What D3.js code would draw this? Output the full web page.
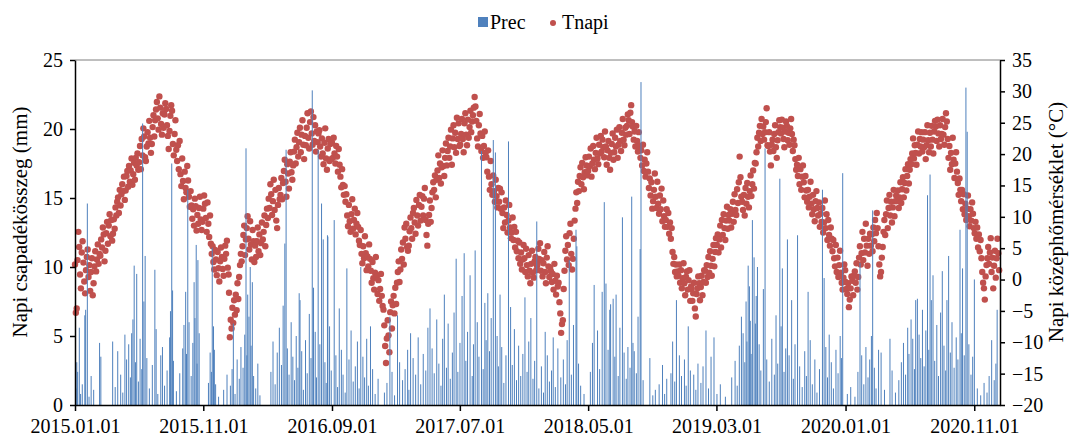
<!DOCTYPE html>
<html>
<head>
<meta charset="utf-8">
<script src="https://cdn.jsdelivr.net/npm/d3@7/dist/d3.min.js"></script>
<style>
body { margin: 0; background: #fff; }
text { font-family: "Liberation Serif", "Times New Roman", serif; fill: #000; }
</style>
</head>
<body>
<div id="chart"></div>
<script>
var width = 1072;
var height = 440;
var plotLeft = 75, plotRight = 1000, plotTop = 60, plotBottom = 405;

var seriesNames = ["Prec", "Tnapi"];
var dateTicks = ["2015.01.01", "2015.11.01", "2016.09.01", "2017.07.01", "2018.05.01", "2019.03.01", "2020.01.01", "2020.11.01"];
var precTicks = [0, 5, 10, 15, 20, 25];
var tempTicks = [-20, -15, -10, -5, 0, 5, 10, 15, 20, 25, 30, 35];

// daily mean temperature (°C), every 2nd day from 1 January
var t2015 = [2.4,-5.3,-4.6,3.1,7.6,5.2,0.8,-1.4,4.3,6.1,2.7,-0.3,-2.2,1.5,3.6,4.8,
  0.4,2.3,-1.8,1.2,3.4,-2.5,-0.6,2.1,4.5,1.3,3.2,5.6,2.5,4.1,
  3.8,6.4,5.1,8.3,7.2,2.9,4.6,7.4,9.2,5.7,8.6,10.4,6.9,9.5,6.2,
  7.3,9.6,8.1,11.5,10.2,12.4,13.1,10.6,14.3,11.8,13.6,15.2,14.1,16.4,12.7,
  14.2,16.5,17.3,14.8,18.1,15.6,17.4,19.3,15.1,16.8,18.6,15.9,19.4,18.2,20.1,17.5,
  18.7,21.3,17.6,22.4,19.8,24.1,22.8,19.5,18.9,21.2,23.5,21.7,25.3,22.6,20.2,
  21.6,24.3,26.2,22.8,25.4,27.1,28.3,25.7,23.9,29.2,27.4,24.8,23.1,26.5,24.2,
  26.3,28.1,27.2,24.6,22.9,20.8,23.7,26.1,27.8,26.9,21.6,19.8,23.2,25.4,20.7,18.9,
  21.4,17.6,22.1,16.8,14.9,19.3,15.7,12.8,17.2,14.6,13.9,18.1,15.8,13.2,11.6,
  14.1,11.8,9.7,11.2,8.6,12.9,11.7,7.8,10.3,8.9,11.4,13.2,9.6,7.9,9.2,
  11.3,13.4,12.1,9.8,7.6,12.3,8.9,6.8,10.2,5.7,4.1,5.3,2.8,1.6,4.7,
  3.2,0.7,4.4,1.8,-0.3,2.9,5.1,3.6,1.7,0.6,3.3,5.4,4.1,6.2,1.9,0.8];
var t2016 = [-2.1,-9.2,-6.4,-7.8,-4.5,-6.9,-3.3,-5.6,-2.4,-4.9,-0.6,-3.1,0.4,2.3,4.1,2.9,
  5.3,7.1,8.6,3.9,6.4,8.2,10.1,6.5,4.8,9.3,5.6,3.2,7.9,6.1,
  2.8,5.4,3.6,6.1,8.3,4.5,7.2,3.9,5.8,9.1,6.4,7.6,10.2,5.3,8.7,11.3,
  9.8,12.9,11.4,15.2,13.6,10.3,12.5,15.9,11.1,14.3,9.4,8.2,11.9,14.6,12.8,
  13.5,16.2,12.8,15.4,17.3,19.1,15.6,13.2,18.4,16.9,14.5,18.8,20.3,17.1,15.9,
  18.2,20.4,22.3,18.5,21.1,23.4,19.6,21.9,24.2,20.3,23.1,25.4,21.5,19.2,22.9,
  21.4,24.2,26.5,22.6,20.9,25.1,26.8,23.3,21.5,25.9,22.1,24.6,20.4,23.6,21.9,23.3,
  23.8,21.2,19.6,22.5,20.1,18.4,21.8,24.1,19.3,17.5,20.9,22.4,18.9,21.6,19.2,
  21.8,19.4,22.6,20.1,18.5,21.3,19.6,17.2,20.8,18.3,16.4,14.7,17.6,15.1,13.5,
  14.9,12.4,13.6,10.2,8.5,11.9,9.3,7.6,10.4,12.8,8.1,9.5,11.3,7.2,8.9,10.6,
  8.4,6.2,5.5,7.9,4.1,2.6,5.3,3.4,6.9,4.2,1.5,3.7,2.1,5.6,3.3,
  1.4,-0.5,2.8,0.2,-1.6,1.1,3.6,0.5,-2.3,-0.1,-3.4,-1.5,0.9,-2.6,-4.2];
var t2017 = [-4.8,-7.3,-10.6,-13.3,-9.4,-6.5,-8.9,-11.6,-5.2,-3.5,-7.8,-4.1,-2.6,-5.4,-1.3,-3.9,
  -0.5,1.2,2.9,-0.4,1.6,4.8,3.3,5.9,2.4,8.3,6.5,8.9,5.2,4.6,
  5.4,7.7,9.9,8.2,6.5,10.6,11.4,9.1,7.3,12.7,10.2,8.6,11.9,13.5,9.4,
  11.6,13.3,10.2,12.9,14.6,9.5,7.1,5.4,8.9,10.3,12.6,9.2,11.4,13.9,15.5,
  14.3,16.6,13.1,15.9,17.4,19.8,16.2,18.5,15.3,17.9,20.6,18.1,16.5,19.4,21.7,18.2,
  20.5,22.6,19.4,21.2,23.9,18.3,22.5,24.6,21.1,23.4,20.2,25.8,22.4,24.9,21.3,
  21.5,23.2,25.6,22.4,20.3,24.9,26.5,23.1,21.4,25.5,22.6,24.3,26.9,23.5,25.2,
  26.2,27.4,29.1,27.6,25.3,22.5,21.2,24.6,26.4,23.3,20.5,22.9,19.4,21.3,23.6,20.2,
  19.5,17.2,20.6,16.4,14.3,18.9,15.2,13.5,16.6,14.1,12.4,15.9,13.3,11.5,14.6,
  12.4,14.5,11.3,13.9,10.6,8.2,11.5,9.1,12.6,10.3,7.5,9.4,11.9,8.3,6.6,
  7.5,9.9,6.3,8.4,5.1,7.6,4.5,6.2,3.4,5.9,2.5,4.3,1.6,3.2,5.5,
  3.4,1.2,4.9,2.3,0.5,3.9,1.4,-0.6,2.5,4.6,1.1,0.3,2.9,3.6,1.5,2.2];
var t2018 = [2.5,4.9,3.3,5.8,1.4,3.1,0.5,2.6,4.4,1.2,-0.6,3.5,5.3,2.1,0.4,1.9,
  1.3,-0.4,0.9,-1.6,2.5,-0.2,-2.4,0.6,-1.1,-0.5,-3.6,-5.4,-8.5,-7.1,
  -6.5,-1.5,1.4,4.6,6.9,3.2,5.5,2.3,7.4,8.9,4.1,1.6,3.3,6.5,9.4,
  11.3,13.9,12.2,15.6,14.1,16.5,17.9,15.2,18.6,16.3,14.4,17.1,19.5,18.2,16.6,
  17.3,19.6,18.1,20.9,16.4,18.5,21.3,19.1,17.6,20.2,22.6,19.3,18.4,21.5,20.1,22.9,
  20.4,22.3,21.1,19.5,23.6,21.2,18.3,20.6,22.1,19.4,17.5,20.2,21.6,23.3,19.1,
  20.3,22.6,21.2,23.9,19.4,21.5,24.3,22.1,20.5,23.4,25.6,22.3,21.4,24.2,23.1,
  24.5,26.3,25.4,23.2,26.6,27.8,25.1,24.4,22.3,23.6,21.2,24.5,22.1,20.4,23.5,21.3,
  19.4,20.6,18.2,21.5,17.3,19.1,16.4,18.5,20.3,17.2,14.6,16.1,13.4,15.5,11.3,
  12.5,14.3,16.9,13.2,11.4,15.6,12.1,10.5,13.4,11.2,14.5,9.3,12.6,10.1,8.4,
  9.5,11.2,8.4,10.6,7.3,9.1,6.5,8.2,4.4,2.5,3.6,1.2,2.4,0.5,1.3,
  0.6,2.4,-0.5,1.5,-1.4,0.2,2.6,-0.6,-2.5,0.4,1.3,-1.6,-0.1,1.5,-3.4,-1.1];
var t2019 = [-1.5,-3.4,-2.2,-0.5,-4.6,-5.9,-2.3,-1.4,0.5,-0.6,-3.3,-1.2,0.6,-2.5,-0.4,1.5,
  1.4,-0.5,2.3,0.4,3.6,1.1,4.5,2.2,0.6,3.3,5.5,2.1,4.4,6.6,
  5.5,7.2,4.3,6.4,8.6,5.1,9.5,7.1,10.4,8.2,6.3,9.4,11.6,8.1,10.3,
  9.4,11.2,8.3,10.5,12.4,9.2,13.6,11.1,10.3,14.4,12.2,15.5,19.6,16.3,13.2,
  12.4,11.1,13.5,10.2,14.6,12.1,15.4,13.2,11.5,14.1,16.6,13.3,15.2,17.4,14.5,18.6,
  18.5,20.3,22.6,21.2,23.4,24.5,22.1,25.6,23.2,24.4,22.3,23.5,25.1,27.3,21.4,
  21.3,23.5,20.4,18.2,21.5,22.3,20.5,23.2,24.6,21.1,19.4,22.2,23.5,25.4,24.3,
  23.3,25.5,24.2,22.4,21.1,23.6,25.2,24.5,22.2,23.4,21.5,24.1,25.6,23.2,20.5,22.3,
  21.4,19.2,17.5,18.3,16.5,19.4,15.2,17.6,14.3,16.4,18.2,15.5,13.1,16.5,14.2,
  12.4,14.3,11.5,13.2,15.6,12.1,10.4,13.5,11.2,9.3,12.5,14.1,11.4,10.2,12.3,
  8.4,10.5,9.2,11.4,7.5,9.1,12.6,8.2,10.4,6.3,9.5,7.1,5.4,8.3,6.5,
  4.5,6.3,3.4,2.1,5.5,1.2,3.5,0.4,2.3,4.6,1.1,-0.5,-1.6,0.3,2.4,1.5];
var t2020 = [-0.4,-1.5,-2.3,-0.6,-4.4,-3.2,-1.4,0.5,-0.2,-2.5,0.6,1.3,-0.5,2.6,-1.6,0.4,
  3.5,5.3,2.4,4.2,7.6,3.1,6.5,4.3,8.9,5.4,2.2,6.5,4.1,7.3,
  5.4,7.2,4.5,8.3,6.1,9.5,7.4,10.6,8.2,5.3,2.4,0.5,1.2,3.5,5.2,7.6,
  9.5,7.1,10.4,12.6,8.2,11.4,13.5,10.2,12.4,9.1,11.5,14.3,10.1,12.5,13.4,
  12.5,14.2,11.4,13.1,15.5,12.2,14.4,16.3,13.1,15.4,17.6,14.2,16.5,18.4,15.3,
  17.5,19.2,18.4,20.1,22.5,19.3,21.4,20.2,18.3,21.5,23.6,20.1,22.4,21.2,23.5,
  20.4,22.3,21.1,23.5,19.2,21.4,24.6,22.2,20.3,23.4,21.2,24.5,22.3,20.1,23.6,25.3,
  24.4,22.1,25.5,23.3,21.2,24.6,22.4,23.2,25.6,23.1,21.5,24.3,26.5,25.2,22.4,
  19.4,21.3,17.5,20.2,18.4,22.6,19.1,16.2,18.5,20.3,17.2,15.4,13.5,16.1,14.3,
  12.5,14.3,11.2,13.6,10.4,12.1,9.5,11.3,13.4,10.1,8.5,11.2,9.4,12.3,10.5,8.2,
  7.4,9.2,6.5,8.3,5.1,7.2,4.5,6.3,3.4,1.2,-0.5,-1.4,-3.2,0.5,2.3,
  3.4,5.2,2.5,4.3,6.6,1.2,3.5,-1.4,2.2,4.6,0.3,3.4,6.5,4.2,1.5];

// daily precipitation: [day of year (0 = 1 January), mm]
var p2015 = [[2,1.2],[4,3.1],[6,2.4],[10,5.6],[13,0.8],[17,1.5],[23,6.5],[25,6.9],[29,14.6],[33,0.6],[38,2.1],[44,1.1],
  [58,4.5],[61,3.5],[89,4.6],[95,1.3],[101,3.9],[108,2.2],[113,0.9],[118,5.1],[122,3.3],[127,4.4],[131,2.0],[134,5.2],
  [137,6.2],[140,10.1],[143,3.1],[146,9.5],[150,1.7],[154,4.8],[158,2.6],[160,20.4],[163,7.5],[166,10.8],[170,3.4],
  [176,1.2],[183,2.9],[189,9.8],[192,5.5],[196,0.8],[203,3.6],[207,4.2],[212,1.4],[218,2.5],[224,4.9],[226,6.8],
  [229,17.5],[231,8.3],[233,3.2],[240,1.0],[248,2.3],[255,4.1],[258,5.8],[262,8.2],[264,3.7],[267,15.6],[270,6.0],
  [275,2.1],[279,4.5],[282,8.9],[284,6.3],[287,11.6],[289,3.0],[291,10.5],[294,5.2],[316,1.6],[320,3.8],[323,2.4],
  [325,11.4],[328,5.7],[330,4.0],[333,1.5],[340,0.6],[352,1.1],[360,2.2]];
var p2016 = [[3,1.4],[7,2.6],[10,5.9],[14,0.8],[19,3.3],[24,1.9],[28,4.2],[33,2.7],[37,5.1],[40,18.6],[42,3.6],[44,8.0],
  [47,6.4],[50,10.0],[52,4.3],[55,8.9],[58,2.1],[63,1.2],[68,3.0],[73,0.7],[99,2.4],[104,4.6],[109,1.5],[114,3.8],
  [119,5.6],[124,2.9],[128,7.2],[132,11.7],[135,18.5],[138,4.1],[142,2.2],[147,6.0],[151,3.5],[155,1.8],[159,5.0],
  [163,2.7],[166,8.1],[168,7.6],[172,3.9],[176,1.1],[181,4.7],[185,2.3],[190,6.6],[194,3.4],[197,22.8],[200,8.5],
  [204,5.3],[207,2.0],[211,18.5],[215,4.4],[219,14.6],[223,12.0],[227,3.1],[230,1.6],[233,12.3],[234,12.2],[238,5.7],
  [242,2.5],[249,13.4],[253,3.6],[257,1.3],[261,7.0],[266,4.0],[270,2.2],[275,0.9],[279,9.9],[284,3.3],[289,5.4],
  [294,1.7],[299,2.8],[304,4.6],[308,1.2],[312,10.0],[317,3.5],[321,2.0],[326,4.8],[330,1.4],[335,5.7],[340,2.6],
  [346,0.8],[353,1.9]];
var p2017 = [[2,0.9],[8,1.6],[15,6.4],[20,2.4],[26,0.7],[33,6.5],[38,3.1],[45,1.8],[51,2.6],[57,4.0],[60,1.1],[64,5.2],
  [70,3.4],[76,2.2],[82,4.9],[88,1.5],[94,3.7],[100,2.5],[105,5.6],[110,7.0],[115,4.1],[120,2.3],[126,6.2],[131,3.0],
  [136,1.4],[140,4.8],[144,8.0],[149,2.7],[153,5.9],[158,1.9],[163,3.8],[167,6.7],[172,10.6],[176,2.4],[181,4.5],
  [186,7.9],[191,11.0],[195,3.2],[199,5.3],[205,9.4],[210,2.1],[213,4.4],[217,11.2],[222,6.0],[226,3.5],[232,18.4],
  [236,2.6],[240,7.4],[243,4.7],[247,8.1],[251,3.9],[255,6.3],[260,19.2],[265,18.3],[269,5.0],[272,2.8],[276,8.0],
  [280,4.2],[285,1.6],[290,3.6],[296,19.1],[301,7.1],[305,2.9],[310,5.5],[315,1.8],[320,4.3],[325,2.1],[330,3.7],
  [335,7.8],[340,2.4],[344,4.6],[349,6.3],[354,1.9],[358,3.2],[363,13.3]];
var p2018 = [[3,1.2],[9,2.8],[14,0.9],[18,5.3],[23,3.6],[28,1.7],[33,2.5],[37,4.9],[42,1.3],[48,4.1],[55,2.0],[61,3.3],
  [66,1.5],[70,4.7],[75,10.5],[80,2.2],[85,5.8],[91,12.7],[93,11.5],[97,3.0],[102,1.4],[110,0.8],[125,2.4],[130,4.5],
  [134,8.7],[142,5.4],[147,2.6],[153,8.2],[158,14.7],[162,8.8],[167,4.0],[171,6.9],[173,7.3],[179,7.7],[183,3.5],
  [186,8.0],[191,2.1],[195,5.6],[201,13.6],[205,3.8],[210,1.9],[214,4.2],[219,2.7],[223,15.1],[226,4.5],[229,3.9],
  [234,2.3],[238,6.4],[243,11.3],[245,23.4],[250,1.8],[266,3.4],[273,0.7],[279,1.1],[288,1.5],[296,2.9],[301,0.8],
  [306,1.9],[316,2.3],[320,4.6],[325,1.7],[329,7.6],[336,3.6],[341,2.1],[348,3.3],[352,1.4],[357,5.7],[362,2.5]];
var p2019 = [[5,2.2],[10,1.1],[15,3.0],[22,1.6],[27,2.8],[34,5.4],[40,1.2],[46,3.5],[53,4.9],[60,0.8],[68,1.5],[80,0.6],
  [95,2.0],[103,3.2],[108,1.4],[113,4.3],[118,6.4],[122,5.2],[126,3.1],[129,7.5],[131,4.6],[134,10.1],[137,8.6],
  [139,6.1],[141,3.7],[144,13.4],[148,10.7],[151,5.9],[153,7.9],[156,10.0],[160,4.4],[164,2.5],[170,8.4],[174,18.6],
  [178,3.3],[184,1.7],[190,4.8],[196,2.2],[200,6.5],[204,3.0],[209,16.4],[212,5.7],[215,9.9],[219,2.4],[223,4.1],
  [227,12.0],[231,3.6],[237,7.6],[241,1.9],[245,4.4],[251,12.3],[256,2.8],[262,1.3],[268,3.9],[272,2.1],[276,8.2],
  [281,4.7],[286,1.5],[292,3.3],[297,0.9],[303,2.6],[310,15.6],[314,9.2],[318,4.2],[322,2.0],[326,5.1],[331,3.1],
  [336,1.2],[342,4.0],[347,2.3],[352,5.0],[355,3.4],[358,16.8]];
var p2020 = [[4,0.8],[12,1.3],[22,0.6],[29,2.4],[34,10.3],[38,3.6],[43,1.5],[48,4.2],[53,2.0],[57,3.3],[61,5.0],[64,14.1],
  [68,2.7],[72,1.2],[78,4.0],[84,3.8],[92,1.1],[105,4.8],[110,2.5],[118,0.9],[126,1.8],[132,3.1],[137,4.5],[142,2.2],
  [147,5.6],[150,3.7],[155,6.2],[159,4.8],[163,2.6],[166,7.6],[170,7.7],[174,5.1],[178,3.4],[182,6.9],[186,2.8],
  [190,5.4],[194,15.2],[197,4.0],[200,16.7],[203,7.6],[207,9.4],[211,3.2],[216,5.8],[220,2.1],[225,6.7],[229,9.7],
  [233,4.3],[237,2.5],[240,7.6],[244,10.8],[248,3.8],[252,6.0],[257,2.7],[262,4.9],[266,3.3],[271,12.7],[274,5.2],
  [277,9.9],[281,3.6],[285,23.0],[288,19.8],[292,4.4],[297,2.2],[301,3.5],[305,9.1],[312,1.2],[320,0.7],[328,1.6],
  [335,0.9],[340,2.1],[346,4.7],[352,1.8],[356,3.0],[359,6.9]];

var years = [2015, 2016, 2017, 2018, 2019, 2020];
var tempByYear = [t2015, t2016, t2017, t2018, t2019, t2020];
var precByYear = [p2015, p2016, p2017, p2018, p2019, p2020];

var tempData = [];
var precData = [];
years.forEach(function(year, k) {
  tempByYear[k].forEach(function(v, i) {
    tempData.push({ date: new Date(year, 0, 1 + 2 * i), t: v });
  });
  precByYear[k].forEach(function(p) {
    precData.push({ date: new Date(year, 0, 1 + p[0]), mm: p[1] });
  });
});

var parseTick = d3.timeParse("%Y.%m.%d");

var x = d3.scaleTime().domain([new Date(2015, 0, 1), new Date(2021, 0, 1)]).range([plotLeft, plotRight]);
var yPrec = d3.scaleLinear().domain([0, 25]).range([plotBottom, plotTop]);
var yTemp = d3.scaleLinear().domain([-20, 35]).range([plotBottom, plotTop]);

var svg = d3.select('#chart').append('svg').attr('width', width).attr('height', height);

svg.append('rect').attr('width', width).attr('height', height).attr('fill', '#fff');

// top border of the plot area
svg.append('line').attr('x1', plotLeft).attr('x2', plotRight).attr('y1', plotTop).attr('y2', plotTop)
  .attr('stroke', '#7f7f7f').attr('stroke-width', 1);

// temperature dots
svg.append('g').selectAll('circle').data(tempData).enter().append('circle')
  .attr('cx', function(d) { return x(d.date); })
  .attr('cy', function(d) { return yTemp(d.t); })
  .attr('r', 3.2)
  .attr('fill', '#C0504D');

// precipitation bars
svg.append('g').selectAll('rect').data(precData).enter().append('rect')
  .attr('x', function(d) { return x(d.date) - 0.4; })
  .attr('width', 1)
  .attr('y', function(d) { return yPrec(d.mm); })
  .attr('height', function(d) { return plotBottom - yPrec(d.mm); })
  .attr('fill', '#4F81BD');

// axes
function styleAxis(g) {
  g.selectAll('.domain').attr('stroke', '#000').attr('stroke-width', 1.5);
  g.selectAll('.tick line').attr('stroke', '#000').attr('stroke-width', 1.5);
  g.selectAll('.tick text').style('font-family', '"Liberation Serif", "Times New Roman", serif').style('font-size', '20px').attr('fill', '#000');
}

svg.append('g').attr('transform', 'translate(' + plotLeft + ',0)')
  .call(d3.axisLeft(yPrec).tickValues(precTicks).tickSize(5).tickSizeOuter(0).tickPadding(7))
  .call(styleAxis);

svg.append('g').attr('transform', 'translate(' + plotRight + ',0)')
  .call(d3.axisRight(yTemp).tickValues(tempTicks).tickSize(5).tickSizeOuter(0).tickPadding(7))
  .call(styleAxis);

svg.append('g').attr('transform', 'translate(0,' + plotBottom + ')')
  .call(d3.axisBottom(x).tickValues(dateTicks.map(parseTick)).tickFormat(d3.timeFormat("%Y.%m.%d")).tickSize(6).tickSizeOuter(0).tickPadding(8))
  .call(styleAxis);

// axis titles
svg.append('text').attr('transform', 'translate(27,222) rotate(-90)')
  .attr('text-anchor', 'middle').style('font-size', '21px').text('Napi csapadékösszeg (mm)');
svg.append('text').attr('transform', 'translate(1063,222) rotate(-90)')
  .attr('text-anchor', 'middle').style('font-size', '21px').text('Napi középhőmérséklet (°C)');

// legend
var legend = svg.append('g').attr('transform', 'translate(478,22)');
legend.append('rect').attr('x', 0).attr('y', -5).attr('width', 10).attr('height', 10).attr('fill', '#4F81BD');
legend.append('text').attr('x', 12).attr('y', 7).style('font-size', '20px').text(seriesNames[0]);
legend.append('circle').attr('cx', 75).attr('cy', 1).attr('r', 3).attr('fill', '#C0504D');
legend.append('text').attr('x', 84).attr('y', 7).style('font-size', '20px').text(seriesNames[1]);
</script>
</body>
</html>
